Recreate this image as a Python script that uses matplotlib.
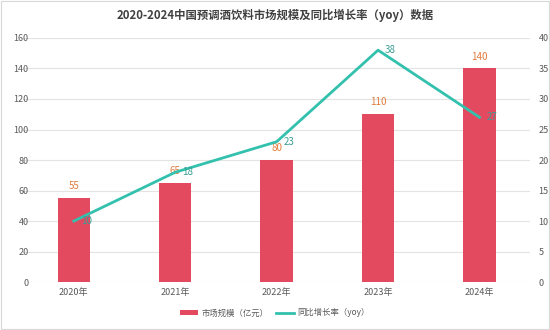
import matplotlib
matplotlib.use("Agg")
import matplotlib.pyplot as plt
from matplotlib.lines import Line2D
from matplotlib.patches import Patch, Rectangle

plt.rcParams['font.family'] = ['Noto Sans CJK SC', 'DejaVu Sans']

years = ["2020年", "2021年", "2022年", "2023年", "2024年"]
market_size = [55, 65, 80, 110, 140]
yoy = [10, 18, 23, 38, 27]

bar_color = "#E34A5F"
line_color = "#33C1AE"
bar_label_color = "#E07B39"
line_label_color = "#3A9E94"
tick_color = "#595959"
grid_color = "#E3E3E3"

fig = plt.figure(figsize=(5.5, 3.3), dpi=100)
ax = fig.add_axes([0.042, 0.145, 0.922, 0.74])
ax2 = ax.twinx()

x = list(range(len(years)))
bars = ax.bar(x, market_size, width=0.32, color=bar_color, zorder=2)
ax.set_xlim(-0.5, len(years) - 0.5)
ax.set_ylim(0, 160)
ax.set_yticks(range(0, 161, 20))
ax.set_xticks(x)
ax.set_xticklabels(years)
ax.grid(axis='y', color=grid_color, linewidth=0.8, zorder=0)
ax.set_axisbelow(True)

ax2.plot(x, yoy, color=line_color, linewidth=2, zorder=3)
ax2.set_ylim(0, 40)
ax2.set_yticks(range(0, 41, 5))

for a in (ax, ax2):
    for s in a.spines.values():
        s.set_visible(False)
    a.tick_params(length=0, labelsize=6.5, colors=tick_color)
ax.tick_params(axis='y', pad=-4)
ax2.tick_params(axis='y', pad=6)
ax.tick_params(axis='x', pad=4)

for xi, v in zip(x, market_size):
    ax.annotate(str(v), (xi, v), xytext=(0, 5), textcoords='offset points',
                ha='center', va='bottom', fontsize=7, color=bar_label_color)
for xi, v in zip(x, yoy):
    ax2.annotate(str(v), (xi, v), xytext=(5, 0), textcoords='offset points',
                 ha='left', va='center', fontsize=7, color=line_label_color)

fig.text(0.5, 0.952, "2020-2024中国预调酒饮料市场规模及同比增长率（yoy）数据",
         ha='center', va='center', fontsize=8.2, fontweight='bold', color="#404040")

handles = [Patch(facecolor=bar_color, edgecolor='none'),
           Line2D([0], [0], color=line_color, linewidth=2)]
fig.legend(handles, ["市场规模（亿元）", "同比增长率（yoy）"], loc='center',
           bbox_to_anchor=(0.5, 0.052), ncol=2, frameon=False, fontsize=6,
           handlelength=2.1, handleheight=0.6, columnspacing=1.0, handletextpad=0.4,
           labelcolor=tick_color)

fig.patches.append(Rectangle((0.002, 0.002), 0.996, 0.996, transform=fig.transFigure,
                             fill=False, edgecolor="#D9D9D9", linewidth=0.8))

fig.savefig("out.png", dpi=100, facecolor='white')
